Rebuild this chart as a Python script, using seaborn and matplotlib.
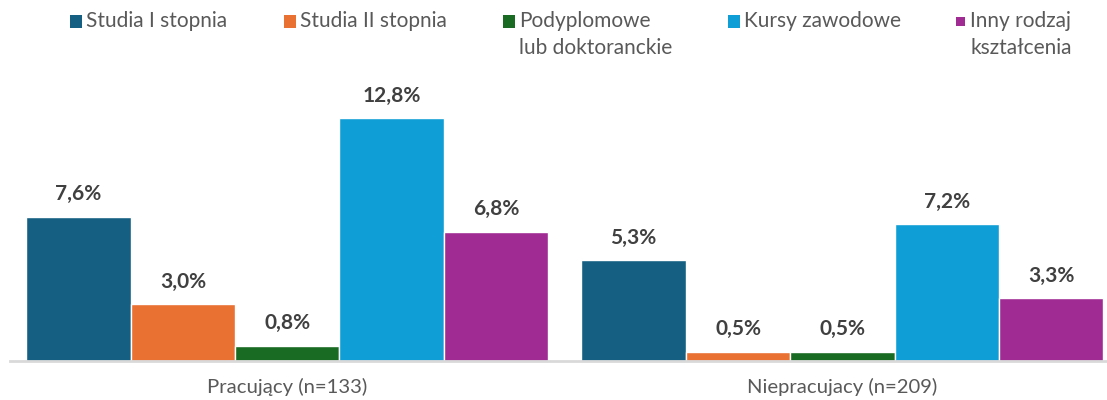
import numpy as np
import pandas as pd
import matplotlib.pyplot as plt
import seaborn as sns
from matplotlib.patches import Rectangle

# data
groups = ["Pracujący (n=133)", "Niepracujacy (n=209)"]
series = ["Studia I stopnia", "Studia II stopnia", "Podyplomowe\nlub doktoranckie",
          "Kursy zawodowe", "Inny rodzaj\nkształcenia"]
values_prac = [7.6, 3.0, 0.8, 12.8, 6.8]
values_nieprac = [5.3, 0.5, 0.5, 7.2, 3.3]
colors = ["#156082", "#E97132", "#196B24", "#0F9ED5", "#A02B93"]

df = pd.DataFrame({
    "group": np.repeat(groups, len(series)),
    "series": series * len(groups),
    "value": values_prac + values_nieprac,
})

sns.set_style("white")
plt.rcParams["font.family"] = ["Lato", "DejaVu Sans"]

W, H = 1107, 400
fig = plt.figure(figsize=(W / 100, H / 100), dpi=100)
ax = fig.add_axes([9.6 / W, 39 / H, (1120 - 9.6) / W, 301 / H])

sns.barplot(data=df, x="group", y="value", hue="series", palette=colors,
            saturation=1, width=0.94, edgecolor="white", linewidth=1,
            legend=False, ax=ax)

for cont in ax.containers:
    labels = [f"{v:.1f}%".replace(".", ",") for v in cont.datavalues]
    ax.bar_label(cont, labels=labels, padding=9, fontsize=15, fontweight="bold",
                 color="#404040")

ax.set_xlim(-0.5, 1.5)
ax.set_ylim(0, 301 / 18.98)
ax.set_xlabel("")
ax.set_ylabel("")
ax.set_yticks([])
ax.set_xticks([0, 1])
ax.set_xticklabels(groups, fontsize=14.6, color="#595959")
ax.set_xticks([-0.5, 0.5, 1.5], minor=True)
ax.tick_params(axis="x", which="major", length=0, pad=12)
ax.tick_params(axis="x", which="minor", length=7, width=1.5, color="#D9D9D9",
               direction="out")
for s in ["left", "right", "top"]:
    ax.spines[s].set_visible(False)
ax.spines["bottom"].set_color("#D9D9D9")
ax.spines["bottom"].set_linewidth(2)

# legend (handles sit next to the first line of each label)
leg_x = [70, 284, 503, 728, 954]
sq = [12, 12, 12, 12, 9]
for x, s, lab, c in zip(leg_x, sq, series, colors):
    yc = 21.5
    fig.add_artist(Rectangle(((x + (12 - s) / 2) / W, 1 - (yc + s / 2) / H),
                             s / W, s / H, transform=fig.transFigure,
                             facecolor=c, edgecolor="none"))
    fig.text((x + 16) / W, 1 - 11 / H, lab, fontsize=15, color="#595959",
             va="top", ha="left", linespacing=1.46)

plt.savefig("out.png", dpi=100)
